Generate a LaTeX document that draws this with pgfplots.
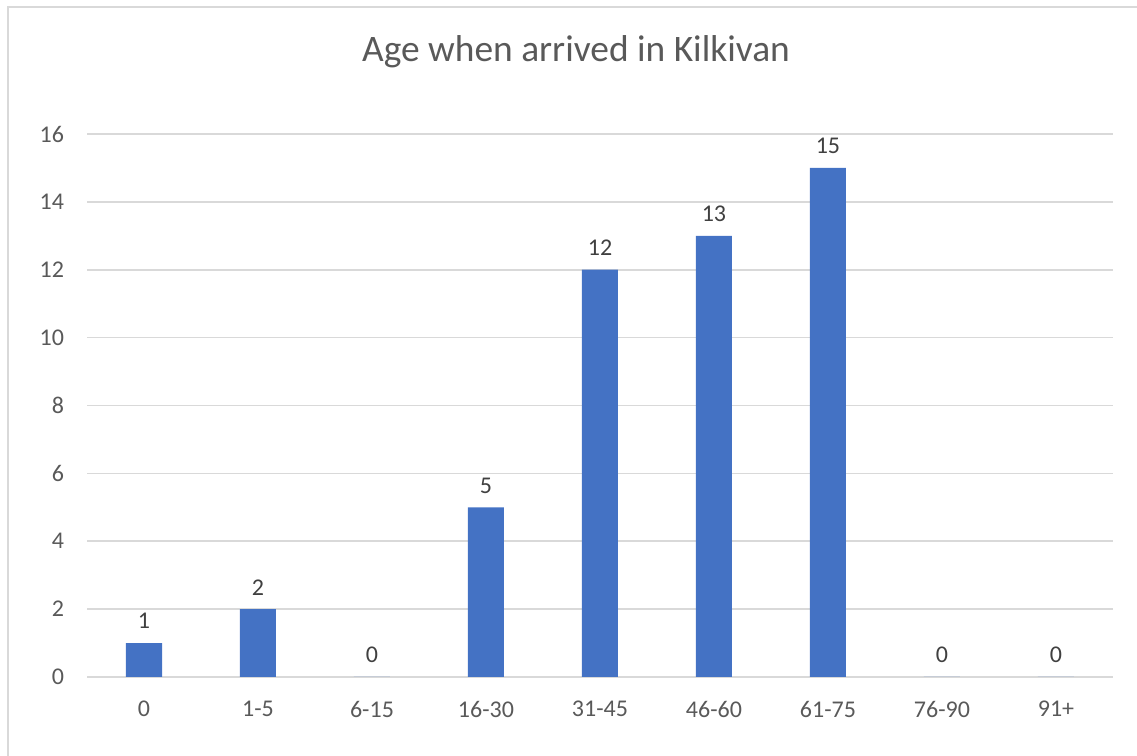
\documentclass[border=0pt]{standalone}
\usepackage{fontspec}
\setmainfont{Carlito}
\usepackage{pgfplots}
\pgfplotsset{compat=1.18}
\definecolor{barblue}{HTML}{4472C4}
\definecolor{gridgray}{HTML}{D9D9D9}
\definecolor{txtgray}{HTML}{595959}
\definecolor{lblgray}{HTML}{404040}
\definecolor{framegray}{HTML}{D9D9D9}
\begin{document}
\begin{tikzpicture}
\path[use as bounding box] (0,0) rectangle (568.5pt,378pt);
\draw[framegray, line width=1pt] (4pt,-2pt) -- (4pt,374.5pt) -- (570pt,374.5pt);
\node[txtgray, font=\fontsize{18.7}{22}\selectfont] at (288pt,352pt) {Age when arrived in Kilkivan};
\begin{axis}[
  at={(43.5pt,39.5pt)}, anchor=south west,
  scale only axis, width=513pt, height=271.5pt,
  xmin=-0.5, xmax=8.5, ymin=0, ymax=16,
  ytick={0,2,...,16},
  xtick={0,...,8},
  xticklabels={0,1-5,6-15,16-30,31-45,46-60,61-75,76-90,91+},
  ymajorgrids, grid style={gridgray, line width=0.8pt},
  axis line style={draw=none},
  major tick style={draw=none},
  ticklabel style={font=\fontsize{12}{14}\selectfont, text=txtgray},
  /pgf/number format/assume math mode=true,
  xticklabel style={yshift=-8.5pt},
  yticklabel style={xshift=-8pt},
  clip=false,
]
\draw[gridgray, line width=0.8pt] (axis cs:-0.5,0) -- (axis cs:8.5,0);
\addplot[ybar, bar width=18pt, fill=barblue, draw=none,
  nodes near coords,
  nodes near coords style={font=\fontsize{12}{14}\selectfont, text=lblgray, anchor=south, yshift=3.5pt, /pgf/number format/assume math mode=true},
] coordinates {(0,1) (1,2) (2,0) (3,5) (4,12) (5,13) (6,15) (7,0) (8,0)};
\end{axis}
\end{tikzpicture}
\end{document}
